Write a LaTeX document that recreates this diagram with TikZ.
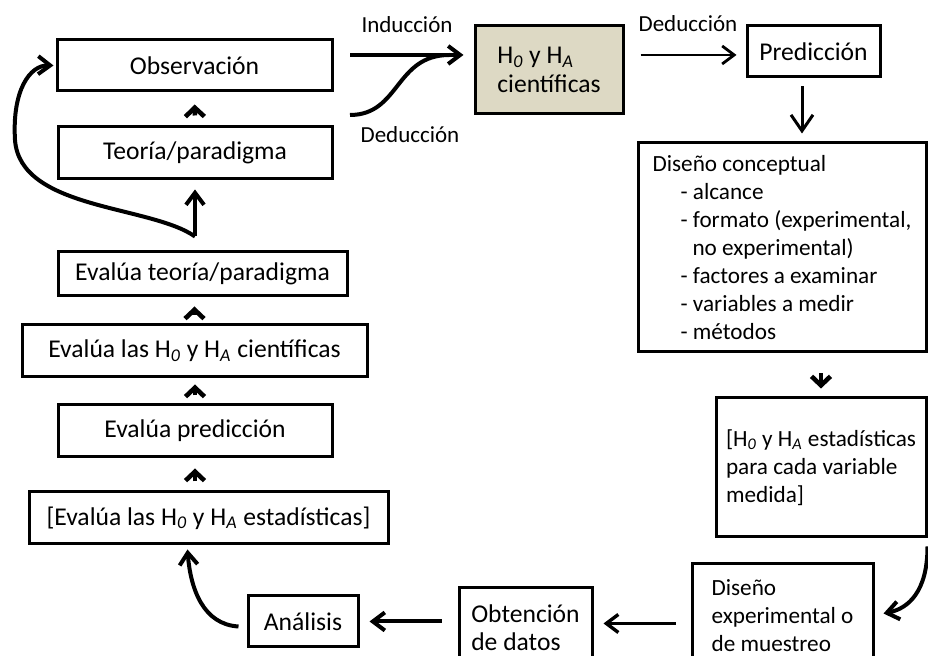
\documentclass[tikz,border=0pt]{standalone}
\usepackage{fontspec}
\setmainfont{Carlito}
\usetikzlibrary{arrows.meta,calc}
\newcommand{\Hcero}{H\textsubscript{\textit{0}}}
\newcommand{\Halt}{H\textsubscript{\textit{A}}}

\begin{document}
\begin{tikzpicture}[x=0.5pt,y=-0.5pt]
\tikzset{
	caja/.style={draw=black, line width=1.5pt, inner sep=0pt, align=left, font=\fontsize{12.8}{14.2}\selectfont},
	chica/.style={font=\fontsize{11.6}{14}\selectfont},
	flecha/.style={-{Straight Barb[length=6pt,width=9pt]}, line width=2pt},
	corta/.style={-{Straight Barb[length=4.5pt,width=9.5pt]}, line width=2.3pt},
	fina/.style={-{Straight Barb[length=6pt,width=9pt]}, line width=1.4pt},
	etiqueta/.style={font=\fontsize{11.5}{13}\selectfont}
}
\clip (0,0) rectangle (928,656);

% columna izquierda
\node[caja, minimum width=137.5pt, minimum height=25.5pt] (c_obs) at (194.5,65.5) {Observación};
\node[caja, minimum width=137pt, minimum height=26pt] (c_teo) at (195,153) {Teoría/paradigma};
\node[caja, minimum width=144.5pt, minimum height=22pt] (c_eteo) at (202.5,274) {Evalúa teoría/paradigma};
\node[caja, minimum width=172.5pt, minimum height=26pt] (c_ehip) at (194.5,351) {Evalúa las \Hcero{} y \Halt{} científicas};
\node[caja, minimum width=137pt, minimum height=26pt] (c_epred) at (195,431) {Evalúa predicción};
\node[caja, minimum width=179.5pt, minimum height=26pt] (c_eest) at (208.5,518) {[Evalúa las \Hcero{} y \Halt{} estadísticas]};

% fila de arriba
\node[caja, fill={rgb,255:red,221;green,217;blue,196}, minimum width=74pt, minimum height=44pt] (c_hip) at (549,70) {\Hcero{} y \Halt\\científicas};
\node[caja, minimum width=66.5pt, minimum height=25.5pt] (c_pred) at (813.5,51.5) {Predicción};

% columna derecha
\node[caja, chica, minimum width=144pt, minimum height=104.5pt] (c_dcon) at (782,247.5) {Diseño conceptual\\
	\hspace*{14pt}- alcance\\
	\hspace*{14pt}- formato (experimental,\\
	\hspace*{20pt}no experimental)\\
	\hspace*{14pt}- factores a examinar\\
	\hspace*{14pt}- variables a medir\\
	\hspace*{14pt}- métodos};
\node[caja, chica, minimum width=105pt, minimum height=69.5pt] (c_hest) at (821,467.5) {[\Hcero{} y \Halt{} estadísticas\\para cada variable\\medida]};

% fila de abajo
\node[caja, chica, minimum width=90.5pt, minimum height=51.5pt] (c_dexp) at (782.5,615.5) {Diseño\\experimental o\\de muestreo};
\node[caja, minimum width=66.5pt, minimum height=39.5pt] (c_obt) at (525.5,627.5) {Obtención\\de datos};
\node[caja, minimum width=55pt, minimum height=25.5pt] (c_ana) at (303,621.5) {Análisis};

% etiquetas
\node[etiqueta] (e_ind) at (407,25) {Inducción};
\node[etiqueta] (e_ded) at (410,135) {Deducción};
\node[etiqueta] (e_ded2) at (688,24) {Deducción};

% puntos libres
\coordinate (p_ind) at (350,55);
\coordinate (p_ded) at (350,115);
\coordinate (p_bif) at ($(c_eteo.north -| c_teo.south)+(0,-14)$);

% Inducción / Deducción hacia las hipótesis
\draw[flecha, shorten >=5pt] (p_ind) -- (c_hip.west |- p_ind);
\draw[line width=2pt] (p_ded) .. controls (400,115) and (395,55) .. ($(c_hip.west |- p_ind)+(-24,0)$);
\draw[fina, shorten <=8pt, shorten >=4.5pt] ([yshift=-1.75pt]c_hip.east |- c_pred.west) -- ([yshift=-1.75pt]c_pred.west);

% bajando por la derecha
\draw[fina, -{Straight Barb[length=8pt,width=11pt]}, line width=1.5pt, shorten <=4pt, shorten >=4pt] ([xshift=-5.75pt]c_pred.south) -- ([xshift=-5.75pt]c_pred.south |- c_dcon.north);
\draw[corta, shorten <=10pt, shorten >=4pt] (c_dcon.south -| c_hest.north) -- (c_hest.north);
\draw[flecha] ($(c_hest.south east)+(0,8)$) .. controls +(0,45) and +(25,-5) .. ($(c_dexp.east)+(9,-2)$);

% hacia la izquierda
\draw[fina, line width=1.7pt, shorten <=7.5pt, shorten >=5pt] ([yshift=-4pt]c_dexp.west) -- ([yshift=-4pt]c_dexp.west -| c_obt.east);
\draw[flecha, shorten <=8pt, shorten >=5pt] (c_obt.west |- c_ana.east) -- (c_ana.east);
\draw[flecha] ($(c_ana.west)+(-8,5)$) .. controls +(-35,-2) and +(3,40) .. ($(c_eest.south)+(-21,4)$);

% subiendo por la izquierda
\draw[corta, shorten <=4.5pt, shorten >=5pt] (c_eest.north -| c_epred.south) -- (c_epred.south);
\draw[corta, shorten <=4pt, shorten >=3pt] (c_epred.north) -- (c_epred.north |- c_ehip.south);
\draw[corta, shorten <=4pt, shorten >=4.5pt] (c_ehip.north) -- (c_ehip.north |- c_eteo.south);
\draw[flecha, shorten >=4.5pt] (p_bif) -- (c_teo.south);
\draw[flecha] (p_bif) .. controls (150,205) and (20,210) .. (15,140) .. controls (12,90) and (30,65) .. ([xshift=-1pt]c_obs.west);
\draw[corta, shorten <=5pt, shorten >=6pt] (c_teo.north) -- (c_obs.south);

\end{tikzpicture}
\end{document}
